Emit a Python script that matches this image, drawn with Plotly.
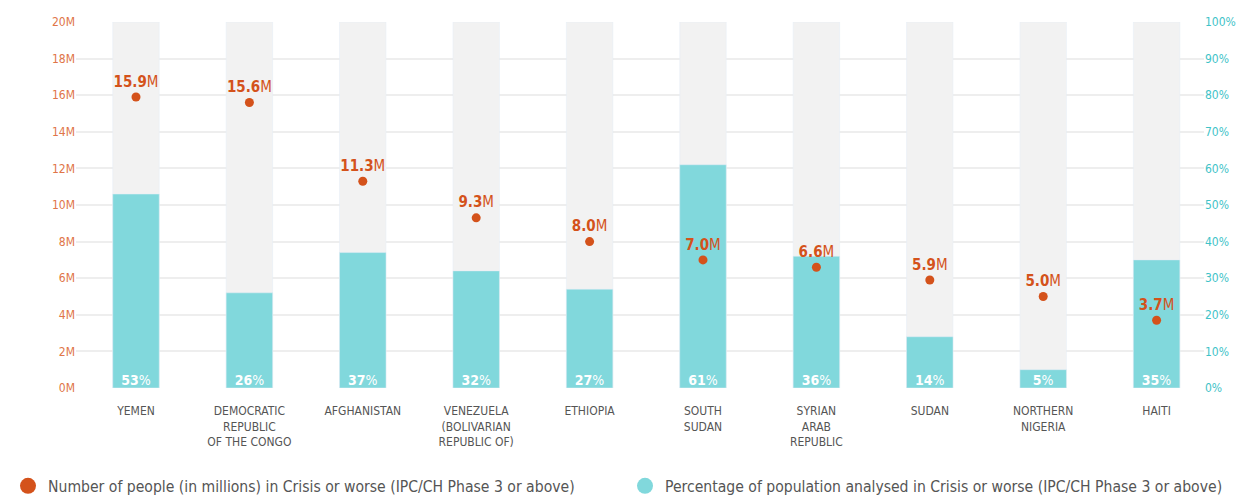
import plotly.graph_objects as go

categories = ["YEMEN", "DEMOCRATIC<br>REPUBLIC<br>OF THE CONGO", "AFGHANISTAN",
              "VENEZUELA<br>(BOLIVARIAN<br>REPUBLIC OF)", "ETHIOPIA", "SOUTH<br>SUDAN",
              "SYRIAN<br>ARAB<br>REPUBLIC", "SUDAN", "NORTHERN<br>NIGERIA", "HAITI"]
people_millions = [15.9, 15.6, 11.3, 9.3, 8.0, 7.0, 6.6, 5.9, 5.0, 3.7]
percent_population = [53, 26, 37, 32, 27, 61, 36, 14, 5, 35]
full_scale = [100] * len(categories)

ORANGE = "#d4521b"
TEAL = "#81d8dc"
FONT = "Liberation Sans Narrow, DejaVu Sans Condensed, Roboto, sans-serif"

fig = go.Figure()
fig.add_trace(go.Bar(x=categories, y=full_scale, marker_color="#f2f2f2", width=0.41,
                     showlegend=False, hoverinfo="skip", yaxis="y"))
fig.add_trace(go.Bar(x=categories, y=percent_population, marker_color=TEAL, width=0.41,
                     showlegend=False, yaxis="y"))
fig.add_trace(go.Scatter(x=categories, y=[0] * len(categories), mode="text",
                         text=[f"<b>{v}</b>%" for v in percent_population],
                         textposition="top center",
                         textfont=dict(color="white", size=14, family=FONT),
                         showlegend=False, hoverinfo="skip", yaxis="y"))
fig.add_trace(go.Scatter(x=categories, y=people_millions, mode="markers+text",
                         marker=dict(color=ORANGE, size=9),
                         text=[f"<b>{v:.1f}</b>M" for v in people_millions],
                         textposition="top center",
                         textfont=dict(color=ORANGE, size=15, family=FONT),
                         showlegend=False, yaxis="y2"))
# legend entries
fig.add_trace(go.Scatter(x=[None], y=[None], mode="markers",
                         marker=dict(color=ORANGE, size=22),
                         name="Number of people (in millions) in Crisis or worse (IPC/CH Phase 3 or above)",
                         yaxis="y2", legend="legend"))
fig.add_trace(go.Scatter(x=[None], y=[None], mode="markers",
                         marker=dict(color=TEAL, size=22),
                         name="Percentage of population analysed in Crisis or worse (IPC/CH Phase 3 or above)",
                         yaxis="y2", legend="legend2"))

legend_style = dict(orientation="h", xref="container", yref="container",
                    xanchor="left", y=0.018, yanchor="middle",
                    font=dict(size=15.6, color="#555555"), itemsizing="trace",
                    bgcolor="rgba(0,0,0,0)")

fig.update_layout(
    width=1239, height=487,
    margin=dict(l=68, r=43, t=14, b=107, autoexpand=False),
    paper_bgcolor="white", plot_bgcolor="white",
    barmode="overlay",
    font=dict(family=FONT),
    xaxis=dict(tickfont=dict(size=12, color="#555555"), showgrid=False,
               showline=False, ticks="", automargin=False, ticklabelstandoff=14,
               range=[-0.529, 9.418]),
    yaxis=dict(range=[0, 100], dtick=10, ticksuffix="%", side="right",
               tickfont=dict(size=12, color="#3fc3c8"), showgrid=True,
               gridcolor="#eeeeee", gridwidth=1.5, zeroline=False, automargin=False),
    yaxis2=dict(range=[0, 20], dtick=2, ticksuffix="M", side="left", overlaying="y",
                tickfont=dict(size=12, color="#e07548"), showgrid=False, zeroline=False,
                automargin=False),
    legend=dict(x=0, **legend_style),
    legend2=dict(x=0.498, **legend_style),
)

fig.write_html("out.html")
